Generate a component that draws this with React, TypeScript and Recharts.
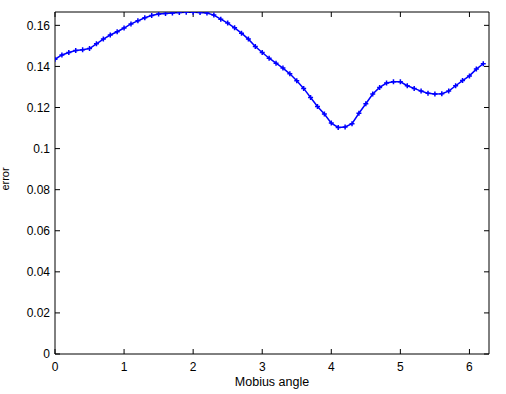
import { LineChart, Line, XAxis, YAxis, Label } from "recharts";

const angles = [
  0, 0.1, 0.2, 0.3, 0.4, 0.5, 0.6, 0.7, 0.8, 0.9,
  1.0, 1.1, 1.2, 1.3, 1.4, 1.5, 1.6, 1.7, 1.8, 1.9,
  2.0, 2.1, 2.2, 2.3, 2.4, 2.5, 2.6, 2.7, 2.8, 2.9,
  3.0, 3.1, 3.2, 3.3, 3.4, 3.5, 3.6, 3.7, 3.8, 3.9,
  4.0, 4.1, 4.2, 4.3, 4.4, 4.5, 4.6, 4.7, 4.8, 4.9,
  5.0, 5.1, 5.2, 5.3, 5.4, 5.5, 5.6, 5.7, 5.8, 5.9,
  6.0, 6.1, 6.2,
];

const errors = [
  0.1435, 0.1456, 0.1468, 0.1478, 0.1481, 0.1487, 0.151, 0.1533, 0.1553, 0.1569,
  0.1587, 0.1607, 0.1622, 0.1637, 0.1648, 0.1655, 0.1658, 0.166, 0.1662, 0.1664,
  0.1664, 0.1662, 0.166, 0.165, 0.163, 0.1611, 0.1588, 0.1562, 0.1533, 0.1497,
  0.1468, 0.144, 0.1416, 0.1392, 0.1364, 0.133, 0.1293, 0.1249, 0.1205, 0.1168,
  0.1124, 0.1103, 0.1105, 0.1121, 0.1172, 0.1218, 0.1266, 0.1298, 0.1319, 0.1325,
  0.1325, 0.1306, 0.1293, 0.128, 0.1269, 0.1266, 0.1267, 0.128, 0.1306, 0.1331,
  0.1354, 0.1387, 0.1413,
];

const xTicks = [0, 1, 2, 3, 4, 5, 6];
const yTicks = [0, 0.02, 0.04, 0.06, 0.08, 0.1, 0.12, 0.14, 0.16];

const data = angles.map((a, i) => ({ angle: a, error: errors[i] }));

const family = "Liberation Sans, Arial, sans-serif";
const tickFont = { fontFamily: family, fontSize: 12, fill: "#000" };

// top/right axes: keep tick marks, drop labels
const NoLabel = () => <g />;

const PlusDot = (props: any) => {
  const { cx, cy, index } = props;
  if (cx == null || cy == null) return <g key={index} />;
  return (
    <path
      key={index}
      d={`M${cx - 2.5},${cy}h5M${cx},${cy - 2.5}v5`}
      stroke="#0000ff"
      strokeWidth={1.5}
      fill="none"
    />
  );
};

export default function App() {
  return (
    <div style={{ position: "absolute", left: 0, top: 0, width: 506, height: 394, background: "#fff" }}>
      <LineChart width={506} height={394} data={data} margin={{ top: 11, right: 16, bottom: 0, left: 0 }}>
        <XAxis
          dataKey="angle"
          type="number"
          domain={[0, Math.PI * 2]}
          ticks={xTicks}
          allowDataOverflow
          height={40}
          tickSize={-5}
          tickMargin={13}
          axisLine={{ stroke: "#000" }}
          tickLine={{ stroke: "#000" }}
          tick={tickFont}
        >
          <Label
            value="Mobius angle"
            position="insideBottom"
            offset={8}
            style={{ fontFamily: family, fontSize: 12.5, fill: "#000" }}
          />
        </XAxis>
        <XAxis
          xAxisId="top"
          orientation="top"
          dataKey="angle"
          type="number"
          domain={[0, Math.PI * 2]}
          ticks={xTicks}
          allowDataOverflow
          height={1}
          tickSize={-5}
          tick={NoLabel}
          axisLine={{ stroke: "#000" }}
          tickLine={{ stroke: "#000" }}
        />
        <YAxis
          type="number"
          domain={[0, 0.1665]}
          ticks={yTicks}
          allowDataOverflow
          width={55}
          tickSize={-5}
          tickMargin={10}
          axisLine={{ stroke: "#000" }}
          tickLine={{ stroke: "#000" }}
          tick={tickFont}
        >
          <Label
            value="error"
            angle={-90}
            position="insideLeft"
            offset={5}
            dy={-4}
            style={{ fontFamily: family, fontSize: 11, fill: "#000", textAnchor: "middle" }}
          />
        </YAxis>
        <YAxis
          yAxisId="right"
          orientation="right"
          type="number"
          domain={[0, 0.1665]}
          ticks={yTicks}
          allowDataOverflow
          width={1}
          tickSize={-5}
          tick={NoLabel}
          axisLine={{ stroke: "#000" }}
          tickLine={{ stroke: "#000" }}
        />
        <Line
          type="linear"
          dataKey="error"
          stroke="#0000ff"
          strokeWidth={1.5}
          dot={PlusDot}
          activeDot={false}
          isAnimationActive={false}
        />
      </LineChart>
    </div>
  );
}
